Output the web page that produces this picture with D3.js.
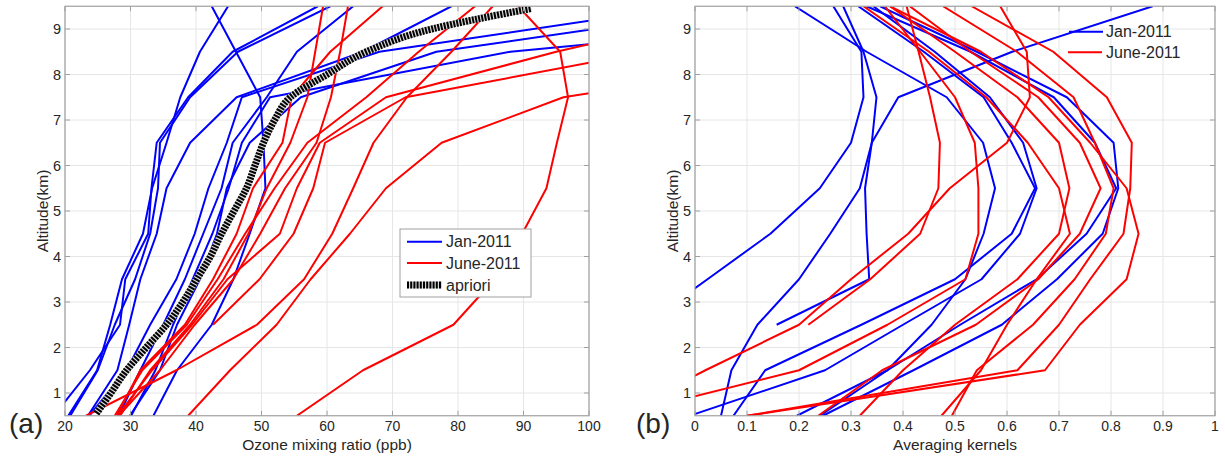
<!DOCTYPE html>
<html><head><meta charset="utf-8">
<script src="https://cdn.jsdelivr.net/npm/d3@7"></script>
<style>body{margin:0;background:#fff;} text{font-family:"Liberation Sans",Arial,Helvetica,sans-serif;fill:#262626;}</style>
</head><body><svg id="c" width="1225" height="457"></svg>
<script>
// ---------- DATA ----------
const altitudes = [0.5,1.5,2.5,3.5,4.5,5.5,6.5,7.5,8.5,9.5];
const yTicks = [1,2,3,4,5,6,7,8,9];
const ozoneTicks = [20,30,40,50,60,70,80,90,100];
const akTicks = [0,0.1,0.2,0.3,0.4,0.5,0.6,0.7,0.8,0.9,1];
const akTickLabels = ["0","0.1","0.2","0.3","0.4","0.5","0.6","0.7","0.8","0.9","1"];

// Panel (a): ozone mixing ratio profiles (ppb) at each altitude
const janOzone = [
  [33.5,37.1,42.4,45.7,48.2,50.6,50.3,49.8,46.1,42.4],
  [20.5,24.9,26.9,28.7,31.9,33.3,35.5,37.6,40.6,44.9],
  [18.3,23.8,28.4,29.2,32.7,33.2,34.0,38.8,45.6,58.6],
  [20.8,25.0,27.6,30.7,33.0,34.2,34.5,39.1,46.4,60.5],
  [23.5,28.0,29.8,31.5,34.0,35.5,39.1,46.2,65.5,79.0],
  [23.7,29.4,33.0,37.0,39.8,41.9,44.7,47.0,68.0,115],
  [28.2,31.5,35.0,38.3,41.1,43.9,45.6,50.8,55.4,64.0],
  [29.9,34.5,37.1,40.6,43.2,44.7,48.2,56.0,76.7,125],
  [30.1,33.8,36.5,39.5,42.5,45.0,47.0,51.3,88.0,160]
];
const juneOzone = [
  [55.4,65.5,79.3,85.6,89.8,93.5,95.1,96.8,95.6,89.2],
  [38.8,45.2,52.3,57.5,63.5,69.0,77.5,96.1,140,180],
  [23.2,37.0,49.3,56.5,60.8,64.0,67.1,72.2,79.0,85.3],
  [27.9,31.5,38.3,42.6,46.2,48.7,53.2,54.6,60.5,68.5],
  [28.4,33.0,39.1,44.2,48.0,50.8,54.4,57.0,58.2,59.4],
  [28.2,34.5,39.8,45.7,49.8,53.6,58.4,60.6,62.0,63.2],
  [28.0,33.3,39.4,44.8,52.8,55.4,58.9,69.0,95.0,125],
  [null,null,42.6,49.7,54.9,57.9,59.7,72.0,109,150],
  [27.6,31.8,38.6,43.3,47.5,52.0,57.0,66.0,74.0,82.6]
];
const aprioriAlt   = [0.55,1.0,1.5,2.0,2.5,3.0,3.5,4.0,4.5,5.0,5.5,6.0,6.5,7.0,7.5,8.0,8.5,9.0,9.2,9.45];
const aprioriOzone = [24.8,27.0,29.4,32.4,35.5,38.0,40.1,42.2,43.9,45.8,47.7,49.0,50.3,52.0,54.4,60.0,66.0,76.0,82.3,91.2];

// Panel (b): averaging kernels at each altitude
const janAK = [
  [-0.20,-0.15,-0.096,0.024,0.145,0.24,0.30,0.324,0.32,0.266],
  [null,null,0.157,0.335,0.33,0.327,0.34,0.349,0.324,0.285],
  [0.196,0.37,0.455,0.52,0.555,0.577,0.554,0.484,0.33,0.192],
  [0.05,0.07,0.12,0.20,0.26,0.317,0.34,0.391,0.61,0.88],
  [0.074,0.135,0.32,0.50,0.609,0.654,0.609,0.555,0.44,0.314],
  [-0.01,0.25,0.40,0.551,0.625,0.657,0.631,0.567,0.461,0.343],
  [0.24,0.37,0.51,0.657,0.753,0.81,0.769,0.69,0.53,0.33],
  [0.246,0.42,0.59,0.696,0.784,0.814,0.805,0.715,0.542,0.356]
];
const juneAK = [
  [0.10,0.673,0.74,0.83,0.853,0.83,0.76,0.68,0.55,0.375],
  [0.10,0.62,0.70,0.76,0.824,0.837,0.84,0.792,0.689,0.532],
  [0.494,0.542,0.65,0.73,0.79,0.805,0.769,0.728,0.619,0.477],
  [-0.15,0.02,0.20,0.30,0.41,0.49,0.60,0.644,0.638,0.587],
  [null,null,0.218,0.337,0.433,0.468,0.471,0.452,0.43,0.407],
  [-0.15,0.20,0.37,0.52,0.545,0.545,0.538,0.50,0.433,0.365],
  [0.474,0.55,0.60,0.657,0.721,0.70,0.64,0.56,0.45,0.324],
  [0.237,0.36,0.54,0.66,0.74,0.78,0.74,0.66,0.53,0.413],
  [0.317,0.40,0.50,0.62,0.70,0.72,0.70,0.62,0.50,0.375]
];

const seriesNames = ["Jan-2011","June-2011","apriori"];
const colors = {jan:"#0000ff", june:"#ff0000"};

// ---------- DRAW ----------
const svg = d3.select("#c");
const yTop = 6.25, yBot = 415.75;
const y = d3.scaleLinear().domain([0.5,9.5]).range([yBot,yTop]);

function panel(opt){
  const x = d3.scaleLinear().domain(opt.domain).range([opt.x0,opt.x1]);
  const g = svg.append("g");
  const id = "clip"+opt.id;
  svg.append("clipPath").attr("id",id).append("rect")
    .attr("x",opt.x0).attr("y",yTop).attr("width",opt.x1-opt.x0).attr("height",yBot-yTop);
  g.append("g").selectAll("line").data(opt.ticks).join("line")
    .attr("x1",d=>x(d)).attr("x2",d=>x(d)).attr("y1",yTop).attr("y2",yBot)
    .attr("stroke","#e6e6e6").attr("stroke-width",1);
  g.append("g").selectAll("line").data(yTicks).join("line")
    .attr("x1",opt.x0).attr("x2",opt.x1).attr("y1",d=>y(d)).attr("y2",d=>y(d))
    .attr("stroke","#e6e6e6").attr("stroke-width",1);
  const lines = g.append("g").attr("clip-path","url(#"+id+")");
  const line = d3.line().defined(d=>d[1]!=null).x(d=>x(d[1])).y(d=>y(d[0]));
  opt.jan.forEach(s=>{
    lines.append("path").attr("d",line(altitudes.map((a,i)=>[a,s[i]])))
      .attr("fill","none").attr("stroke",colors.jan).attr("stroke-width",2).attr("stroke-linejoin","round");
  });
  opt.june.forEach(s=>{
    lines.append("path").attr("d",line(altitudes.map((a,i)=>[a,s[i]])))
      .attr("fill","none").attr("stroke",colors.june).attr("stroke-width",2).attr("stroke-linejoin","round");
  });
  if(opt.apriori){
    const pts = aprioriAlt.map((a,i)=>[a,aprioriOzone[i]]);
    const cl = d3.line().curve(d3.curveMonotoneY).x(d=>x(d[1])).y(d=>y(d[0]));
    lines.append("path").attr("d",cl(pts)).attr("fill","none").attr("stroke","#d8d8d8").attr("stroke-width",7);
    lines.append("path").attr("d",cl(pts)).attr("fill","none").attr("stroke","#000").attr("stroke-width",7)
      .attr("stroke-dasharray","2,1.2");
  }
  g.append("rect").attr("x",opt.x0).attr("y",yTop).attr("width",opt.x1-opt.x0).attr("height",yBot-yTop)
    .attr("fill","none").attr("stroke","#a0a0a0").attr("stroke-width",1.2);
  const tk = g.append("g").attr("stroke","#a0a0a0").attr("stroke-width",1);
  opt.ticks.forEach(t=>{
    tk.append("line").attr("x1",x(t)).attr("x2",x(t)).attr("y1",yBot).attr("y2",yBot-5);
    tk.append("line").attr("x1",x(t)).attr("x2",x(t)).attr("y1",yTop).attr("y2",yTop+5);
  });
  yTicks.forEach(t=>{
    tk.append("line").attr("x1",opt.x0).attr("x2",opt.x0+5).attr("y1",y(t)).attr("y2",y(t));
    tk.append("line").attr("x1",opt.x1).attr("x2",opt.x1-5).attr("y1",y(t)).attr("y2",y(t));
  });
  g.append("g").selectAll("text").data(opt.ticks).join("text")
    .attr("x",d=>x(d)).attr("y",431).attr("text-anchor","middle").attr("font-size",14)
    .text((d,i)=>opt.tickLabels[i]);
  g.append("g").selectAll("text").data(yTicks).join("text")
    .attr("x",opt.x0-4).attr("y",d=>y(d)+5).attr("text-anchor","end").attr("font-size",14.5)
    .text(d=>d);
  g.append("text").attr("x",(opt.x0+opt.x1)/2).attr("y",450).attr("text-anchor","middle")
    .attr("font-size",15.5).text(opt.xLabel);
  g.append("text").attr("transform",`translate(${opt.x0-17},${y(5)}) rotate(-90)`)
    .attr("text-anchor","middle").attr("font-size",15.5).text("Altitude(km)");
  g.append("text").attr("x",opt.tagX).attr("y",433).attr("font-size",28).text(opt.tag);
  return x;
}

panel({id:"a",domain:[20,100],x0:65,x1:589,ticks:ozoneTicks,tickLabels:ozoneTicks.map(String),
  jan:janOzone,june:juneOzone,apriori:true,xLabel:"Ozone mixing ratio (ppb)",tag:"(a)",tagX:9});
panel({id:"b",domain:[0,1],x0:695,x1:1215,ticks:akTicks,tickLabels:akTickLabels,
  jan:janAK,june:juneAK,apriori:false,xLabel:"Averaging kernels",tag:"(b)",tagX:636});

const la = svg.append("g");
la.append("rect").attr("x",400).attr("y",229).attr("width",131).attr("height",68)
  .attr("fill","#fff").attr("stroke","#a0a0a0").attr("stroke-width",1);
const legY = [241.7,263,285];
la.append("line").attr("x1",407).attr("x2",442).attr("y1",legY[0]).attr("y2",legY[0]).attr("stroke",colors.jan).attr("stroke-width",2);
la.append("line").attr("x1",407).attr("x2",442).attr("y1",legY[1]).attr("y2",legY[1]).attr("stroke",colors.june).attr("stroke-width",2);
la.append("line").attr("x1",407).attr("x2",442).attr("y1",legY[2]).attr("y2",legY[2]).attr("stroke","#d8d8d8").attr("stroke-width",7);
la.append("line").attr("x1",407).attr("x2",442).attr("y1",legY[2]).attr("y2",legY[2]).attr("stroke","#000").attr("stroke-width",7).attr("stroke-dasharray","2,1.2");
seriesNames.forEach((n,i)=>la.append("text").attr("x",446).attr("y",legY[i]+5.5).attr("font-size",16).text(n));

const lb = svg.append("g");
const lbY = [31.7,52.3];
lb.append("line").attr("x1",1069).attr("x2",1103).attr("y1",lbY[0]).attr("y2",lbY[0]).attr("stroke",colors.jan).attr("stroke-width",2);
lb.append("line").attr("x1",1068).attr("x2",1102).attr("y1",lbY[1]).attr("y2",lbY[1]).attr("stroke",colors.june).attr("stroke-width",2);
seriesNames.slice(0,2).forEach((n,i)=>lb.append("text").attr("x",1106).attr("y",lbY[i]+5.5).attr("font-size",16).text(n));
</script></body></html>
